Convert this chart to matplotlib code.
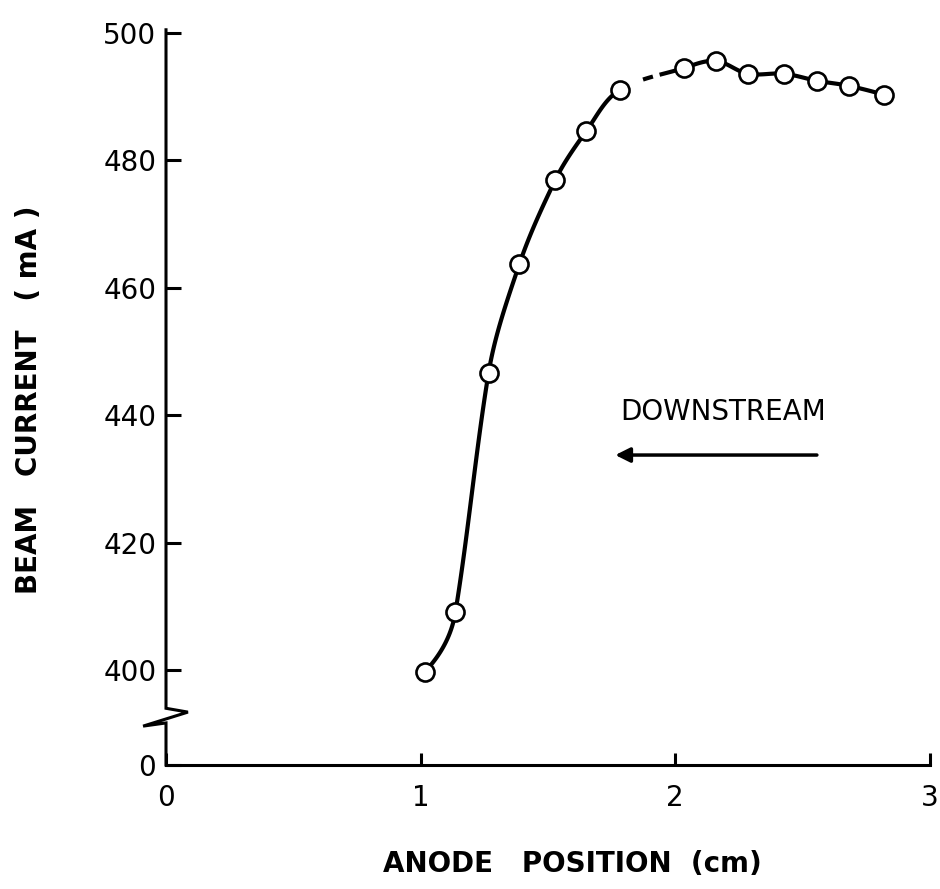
import numpy as np
import matplotlib
matplotlib.use("Agg")
import matplotlib.pyplot as plt

# Data
anode_position = [1.016, 1.137, 1.267, 1.388, 1.529, 1.651, 1.784,
                  2.035, 2.160, 2.286, 2.427, 2.557, 2.682, 2.820]
beam_current = [399.7, 409.1, 446.6, 463.7, 476.9, 484.6, 491.1,
                494.5, 495.6, 493.6, 493.6, 492.5, 491.7, 490.3]

ytick_values = [400, 420, 440, 460, 480, 500]
xtick_values = [0, 1, 2, 3]

# broken axis: the "0" level sits just below the break
Y_ZERO = 385.1
Y_TOP = 500.5


def smooth_curve(xs, ys, sx=255.0, sy=6.37, n=60):
    """Hermite spline in screen-like space; tangent directions weighted
    toward the longer neighbouring chord, natural-like end tangents."""
    P = np.column_stack([np.asarray(xs) * sx, np.asarray(ys) * sy])
    chords = np.diff(P, axis=0)
    L = np.linalg.norm(chords, axis=1)
    D = chords / L[:, None]
    npts = len(P)
    dirs = np.zeros_like(P)
    for i in range(1, npts - 1):
        v = L[i - 1] ** 2 * D[i - 1] + L[i] ** 2 * D[i]
        dirs[i] = v / np.linalg.norm(v)
    s = np.linspace(0, 1, n)[:, None]
    h00 = 2 * s**3 - 3 * s**2 + 1
    h10 = s**3 - 2 * s**2 + s
    h01 = -2 * s**3 + 3 * s**2
    h11 = s**3 - s**2
    segs = []
    for i in range(npts - 1):
        p0, p1 = P[i], P[i + 1]
        m0 = dirs[i] * L[i] if i > 0 else None
        m1 = dirs[i + 1] * L[i] if i + 1 < npts - 1 else None
        if m0 is None:
            m0 = 2 * chords[i] - m1
        if m1 is None:
            m1 = 2 * chords[i] - m0
        C = h00 * p0 + h10 * m0 + h01 * p1 + h11 * m1
        segs.append(np.column_stack([C[:, 0] / sx, C[:, 1] / sy]))
    return segs


fig = plt.figure(figsize=(9.4, 8.89), dpi=100)
ax = fig.add_axes([0.1766, 0.1395, 0.8124, 0.827])
ax.set_xlim(0, 3)
ax.set_ylim(Y_ZERO, Y_TOP)

# smooth curve, with the small break between 7th and 8th points
segs = smooth_curve(anode_position, beam_current)
for i, seg in enumerate(segs):
    if i == 6:
        x = seg[:, 0]
        mask = ~(((x > 1.80) & (x < 1.87)) | ((x > 1.915) & (x < 1.935)))
        xs = np.where(mask, seg[:, 0], np.nan)
        ys = np.where(mask, seg[:, 1], np.nan)
        ax.plot(xs, ys, color="black", lw=3.0, solid_capstyle="butt", zorder=2)
    else:
        ax.plot(seg[:, 0], seg[:, 1], color="black", lw=3.0,
                solid_capstyle="round", zorder=2)

ax.plot(anode_position, beam_current, linestyle="none", marker="o",
        markersize=13, markerfacecolor="white", markeredgecolor="black",
        markeredgewidth=1.9, zorder=3)

# spines
for s in ["top", "right", "left"]:
    ax.spines[s].set_visible(False)
ax.spines["bottom"].set_linewidth(2.2)

# y-axis with break drawn by hand
ax.plot([0, 0, 0.086, -0.090, 0, 0],
        [Y_TOP, 394.0, 393.4, 391.2, 391.7, Y_ZERO],
        color="black", lw=2.2, clip_on=False, zorder=4,
        solid_joinstyle="miter")

ax.set_yticks([Y_ZERO] + ytick_values)
ax.set_yticklabels(["0"] + [str(v) for v in ytick_values])
ax.set_xticks(xtick_values)
ax.set_xticklabels([str(v) for v in xtick_values])
ax.tick_params(axis="y", direction="in", length=11, width=2.2, pad=7,
               labelsize=20)
ax.tick_params(axis="x", direction="in", length=9, width=2.2, pad=14,
               labelsize=20)

ax.set_ylabel("BEAM   CURRENT   ( mA )", fontsize=20, fontweight="bold")
ax.yaxis.set_label_coords(-0.161, 0.497)
ax.set_xlabel("ANODE   POSITION  (cm)", fontsize=20, fontweight="bold")
ax.xaxis.set_label_coords(0.532, -0.1157)

ax.text(1.784, 440.5, "DOWNSTREAM", fontsize=20, ha="left", va="center")
ax.annotate("", xy=(1.765, 433.75), xytext=(2.557, 433.75),
            arrowprops=dict(arrowstyle="-|>", color="black", lw=2.5,
                            mutation_scale=22, shrinkA=0, shrinkB=0))

fig.savefig("out.png", dpi=100)
